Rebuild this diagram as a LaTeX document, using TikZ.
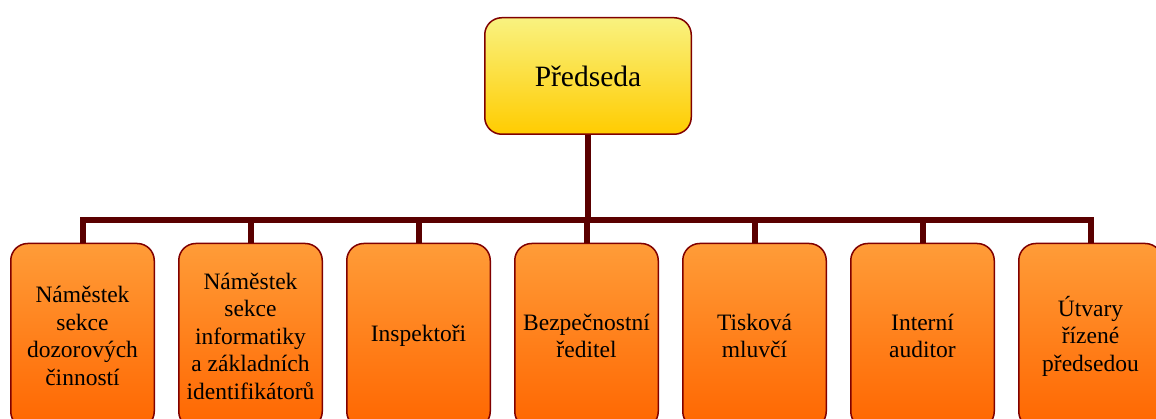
\documentclass[tikz,border=0pt]{standalone}
\usepackage{fontspec}
\setmainfont{Liberation Serif}
\usetikzlibrary{positioning}
\definecolor{okraj}{RGB}{128, 0, 0}
\definecolor{spoj}{RGB}{90, 0, 0}
\definecolor{zlutahore}{RGB}{249, 242, 128}
\definecolor{zlutadole}{RGB}{255, 204, 0}
\definecolor{oranzhore}{RGB}{255, 156, 56}
\definecolor{oranzdole}{RGB}{255, 102, 0}

\begin{document}
\begin{tikzpicture}[
  x=1pt, y=-1pt,
  node distance=23pt,
  head/.style={rectangle, draw=okraj, line width=1.5pt, rounded corners=17pt, top color=zlutahore, bottom color=zlutadole, minimum width=206.5pt, minimum height=116.5pt, align=center, font=\fontsize{29.5}{33}\selectfont},
  unit/.style={rectangle, draw=okraj, line width=1.5pt, rounded corners=17pt, top color=oranzhore, bottom color=oranzdole, minimum width=143.5pt, minimum height=185pt, inner sep=2pt, align=center, font=\fontsize{23.5}{27.5}\selectfont},
  link/.style={draw=spoj, line width=6pt}
]
\clip (0,0) rectangle (1156,419);
% Row 1
\node[head] (pred) at (588,76) {Předseda};
% Row 2
\node[unit] (nam1) at (82.5,336) {Náměstek\\sekce\\dozorových\\činností};
\node[unit, right=of nam1] (nam2) {Náměstek\\sekce\\informatiky\\a základních\\identifikátorů};
\node[unit, right=of nam2] (insp) {Inspektoři};
\node[unit, right=of insp] (bezp) {Bezpečnostní\\ředitel};
\node[unit, right=of bezp] (tisk) {Tisková\\mluvčí};
\node[unit, right=of tisk] (audit) {Interní\\auditor};
\node[unit, right=of audit] (utv) {Útvary\\řízené\\předsedou};
% Links
\coordinate (bar) at (588,220);
\draw[link] (pred) -- (bar);
\draw[link] (bar) -| (nam1);
\draw[link] (bar) -| (nam2);
\draw[link] (bar) -| (insp);
\draw[link] (bar) -| (bezp);
\draw[link] (bar) -| (tisk);
\draw[link] (bar) -| (audit);
\draw[link] (bar) -| (utv);
\end{tikzpicture}
\end{document}
